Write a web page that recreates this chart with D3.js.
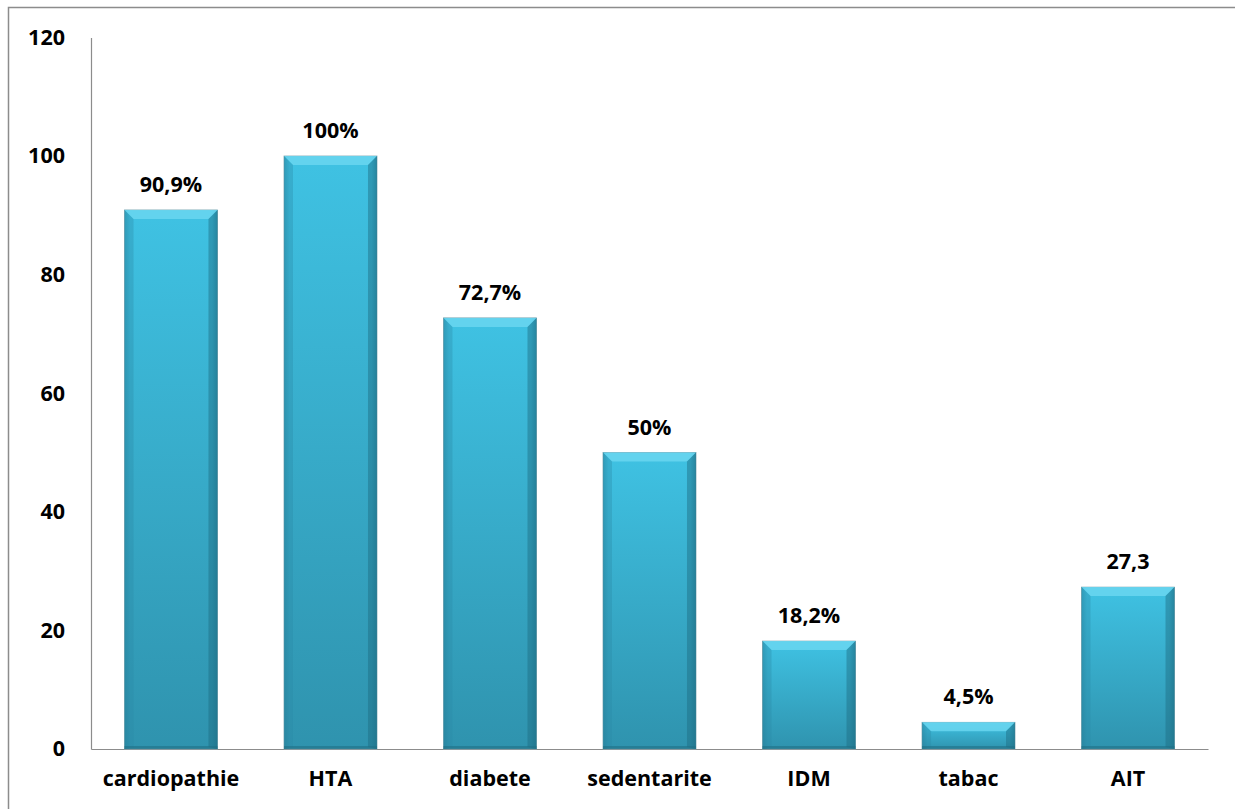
<!DOCTYPE html>
<html><head><meta charset="utf-8">
<script src="https://cdn.jsdelivr.net/npm/d3@7"></script>
<style>html,body{margin:0;background:#fff;overflow:hidden}svg{display:block}</style>
</head><body>
<script>
const categories = ["cardiopathie","HTA","diabete","sedentarite","IDM","tabac","AIT"];
const values = [90.9,100,72.7,50,18.2,4.5,27.3];
const valueLabels = ["90,9%","100%","72,7%","50%","18,2%","4,5%","27,3"];
const yTicks = [0,20,40,60,80,100,120];

const W=1235,H=809;
const svg=d3.select("body").append("svg").attr("width",W).attr("height",H);
const m={l:91,r:1208,t:37.4,b:749};
const font="'Open Sans', sans-serif";
const fs="21.5px";

// outer chart-area border (top and left only visible in frame)
svg.append("path").attr("d",`M8.5,${H}V7.5H${W}`)
  .attr("fill","none").attr("stroke","#8c8c8c").attr("stroke-width",1.5);

const x=d3.scaleBand().domain(categories).range([m.l,m.r]).paddingInner(0.417).paddingOuter(0.21);
const y=d3.scaleLinear().domain([0,120]).range([m.b,m.t]);

const defs=svg.append("defs");
const g=defs.append("linearGradient").attr("id","bg").attr("x1",0).attr("y1",0).attr("x2",0).attr("y2",1);
g.append("stop").attr("offset","0%").attr("stop-color","#3fc2e3");
g.append("stop").attr("offset","100%").attr("stop-color","#2f93ae");
const gs=defs.append("linearGradient").attr("id","sg").attr("x1",0).attr("y1",0).attr("x2",1).attr("y2",0);
gs.append("stop").attr("offset","0%").attr("stop-color","#1e6f86").attr("stop-opacity",0.35);
gs.append("stop").attr("offset","6%").attr("stop-color","#1e6f86").attr("stop-opacity",0);
gs.append("stop").attr("offset","94%").attr("stop-color","#1e6f86").attr("stop-opacity",0);
gs.append("stop").attr("offset","100%").attr("stop-color","#1e6f86").attr("stop-opacity",0.45);

const yAxis=svg.append("g").attr("transform",`translate(${m.l},0)`)
  .call(d3.axisLeft(y).tickValues(yTicks).tickSize(0).tickPadding(26));
yAxis.select(".domain").attr("stroke","#8c8c8c").attr("stroke-width",1.2);
yAxis.selectAll("text").attr("font-family",font).attr("font-weight","bold").attr("font-size",fs).attr("fill","#000");

const xAxis=svg.append("g").attr("transform",`translate(0,${m.b})`)
  .call(d3.axisBottom(x).tickSize(0).tickPadding(22).tickSizeOuter(0));
xAxis.select(".domain").attr("stroke","#8c8c8c").attr("stroke-width",1.2);
xAxis.selectAll("text").attr("font-family",font).attr("font-weight","bold").attr("font-size",fs).attr("fill","#000");

const bars=svg.append("g").selectAll("g").data(categories).join("g");
bars.each(function(c,i){
  const s=d3.select(this);
  const x0=x(c),w=x.bandwidth(),y0=y(values[i]),h=y(0)-y(values[i]);
  const b=Math.min(9,h/2);
  s.append("rect").attr("x",x0).attr("y",y0).attr("width",w).attr("height",h).attr("fill","url(#bg)")
   .attr("stroke","#7fa8b4").attr("stroke-width",0.8);
  s.append("rect").attr("x",x0).attr("y",y0).attr("width",w).attr("height",h).attr("fill","url(#sg)");
  s.append("path").attr("d",`M${x0},${y0}L${x0+w},${y0}L${x0+w-b},${y0+b}L${x0+b},${y0+b}Z`).attr("fill","#6ad6f0").attr("opacity",0.85);
  s.append("path").attr("d",`M${x0},${y0}L${x0+b},${y0+b}L${x0+b},${y0+h-2}L${x0},${y0+h}Z`).attr("fill","#2a8aa6").attr("opacity",0.35);
  s.append("path").attr("d",`M${x0+w},${y0}L${x0+w-b},${y0+b}L${x0+w-b},${y0+h-2}L${x0+w},${y0+h}Z`).attr("fill","#1c6a80").attr("opacity",0.45);
  s.append("rect").attr("x",x0).attr("y",y0+h-3).attr("width",w).attr("height",3).attr("fill","#1f6f86").attr("opacity",0.6);
  s.append("text").attr("x",x0+w/2).attr("y",y0-18).attr("text-anchor","middle")
   .attr("font-family",font).attr("font-weight","bold").attr("font-size",fs).text(valueLabels[i]);
});
</script>
</body></html>
